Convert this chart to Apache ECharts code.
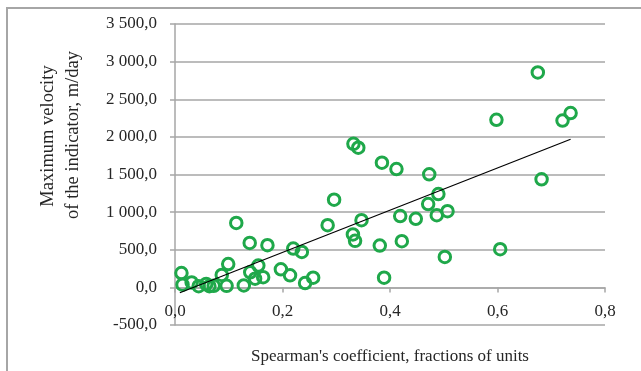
<!DOCTYPE html>
<html>
<head>
<meta charset="utf-8">
<script src="https://cdn.jsdelivr.net/npm/echarts@6/dist/echarts.min.js"></script>
<style>
  html, body { margin: 0; padding: 0; background: #fff; }
  #chart { width: 641px; height: 371px; }
</style>
</head>
<body>
<div id="chart"></div>
<script>
// Spearman's coefficient (x) vs maximum velocity, m/day (y)
const spearman = [
  0.012, 0.014, 0.031, 0.044, 0.058, 0.064, 0.072, 0.087, 0.096, 0.099,
  0.114, 0.128, 0.139, 0.140, 0.149, 0.155, 0.164, 0.172, 0.197, 0.214,
  0.220, 0.236, 0.242, 0.257, 0.284, 0.296, 0.331, 0.335, 0.347, 0.332,
  0.341, 0.385, 0.381, 0.389, 0.412, 0.419, 0.422, 0.448, 0.471, 0.473,
  0.487, 0.490, 0.507, 0.502, 0.598, 0.605, 0.675, 0.682, 0.721, 0.736
];
const velocity = [
  190, 35, 65, 15, 45, 15, 20, 165, 20, 310,
  857, 25, 591, 200, 115, 290, 135, 560, 240, 160,
  516, 471, 57, 129, 827, 1165, 703, 618, 893, 1907,
  1857, 1657, 556, 129, 1573, 947, 613, 911, 1107, 1502,
  960, 1240, 1013, 404, 2227, 507, 2857, 1436, 2217, 2316
];
// linear trend line end points
const trendX = [0.009, 0.736];
const trendY = [-71, 1969];

const xRange = [0, 0.8, 0.2];
const yRange = [-500, 3500, 500];

const green = '#1fa84a';
const gridGray = '#a6a6a6';
const textColor = '#262626';
const font = '"Liberation Serif", "Times New Roman", serif';

const gridTop = 24;
const gridBottom = 46;
const plotHeight = 371 - gridTop - gridBottom;

function yLabel(v) {
  const s = Math.abs(v).toFixed(0).replace(/\B(?=(\d{3})+(?!\d))/g, ' ');
  return (v < 0 ? '-' : '') + s + ',0';
}

// x axis sits on y = 0, so lift it from the grid bottom by that share of the plot
const zeroOffset = -plotHeight * (0 - yRange[0]) / (yRange[1] - yRange[0]);

const chart = echarts.init(document.getElementById('chart'), null, { renderer: 'canvas' });
chart.setOption({
  backgroundColor: '#fff',
  animation: false,
  grid: { left: 175, right: 36, top: gridTop, bottom: gridBottom, outerBoundsMode: 'none' },
  graphic: [
    {
      type: 'rect',
      shape: { x: 7, y: 8, width: 700, height: 420 },
      style: { fill: 'none', stroke: gridGray, lineWidth: 2 },
      silent: true
    },
    {
      type: 'text',
      x: 48,
      y: 136,
      rotation: Math.PI / 2,
      style: { text: 'Maximum velocity', font: '18.5px ' + font, fill: textColor, align: 'center', verticalAlign: 'middle' }
    },
    {
      type: 'text',
      x: 73,
      y: 135,
      rotation: Math.PI / 2,
      style: { text: 'of the indicator, m/day', font: '18.5px ' + font, fill: textColor, align: 'center', verticalAlign: 'middle' }
    }
  ],
  xAxis: {
    type: 'value',
    min: xRange[0],
    max: xRange[1],
    interval: xRange[2],
    offset: zeroOffset,
    name: "Spearman's coefficient, fractions of units",
    nameLocation: 'middle',
    nameGap: 61,
    nameTextStyle: { fontFamily: font, fontSize: 17, color: textColor },
    axisLine: { onZero: false, lineStyle: { color: gridGray, width: 1.5 } },
    axisTick: { show: true, length: 5, lineStyle: { color: gridGray, width: 1.5 } },
    axisLabel: {
      margin: 16,
      fontFamily: font,
      fontSize: 17,
      color: textColor,
      formatter: (v) => v.toFixed(1).replace('.', ',')
    },
    splitLine: { show: false }
  },
  yAxis: {
    type: 'value',
    min: yRange[0],
    max: yRange[1],
    interval: yRange[2],
    axisLine: { show: true, lineStyle: { color: gridGray, width: 1.5 } },
    axisTick: { show: true, length: 5, lineStyle: { color: gridGray, width: 1.5 } },
    axisLabel: { margin: 18, fontFamily: font, fontSize: 17, color: textColor, formatter: yLabel },
    splitLine: { show: true, lineStyle: { color: gridGray, width: 1.5 } }
  },
  series: [
    {
      type: 'scatter',
      symbol: 'circle',
      symbolSize: 11.5,
      itemStyle: { color: 'rgba(255,255,255,0)', borderColor: green, borderWidth: 3, opacity: 1 },
      data: spearman.map((x, i) => [x, velocity[i]]),
      z: 2
    },
    {
      type: 'line',
      showSymbol: false,
      symbol: 'none',
      lineStyle: { color: '#000', width: 1.2 },
      data: trendX.map((x, i) => [x, trendY[i]]),
      z: 3
    }
  ]
});
</script>
</body>
</html>
